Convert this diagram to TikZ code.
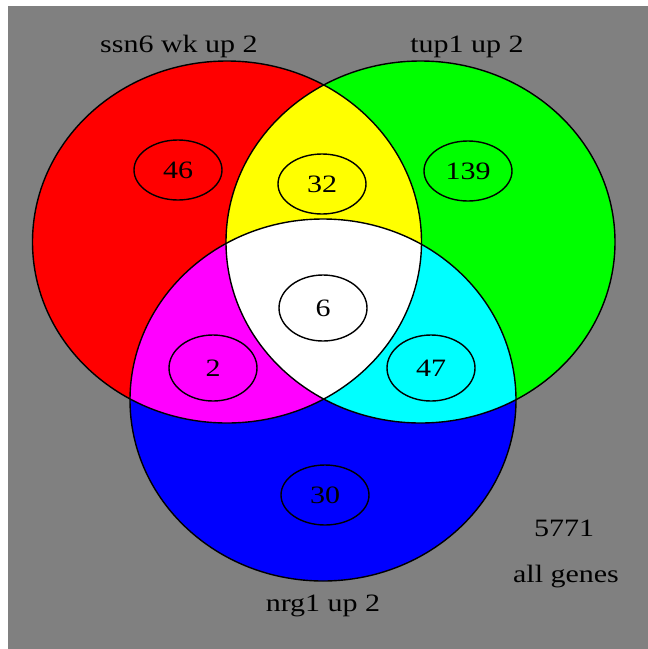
\documentclass[tikz,border=0pt]{standalone}
\usepackage{fontspec}
\setmainfont{Liberation Serif}[FakeStretch=1.2]
\usetikzlibrary{shapes.geometric}
\definecolor{bggray}{RGB}{128,128,128}
\definecolor{vred}{RGB}{255,0,0}
\definecolor{vgreen}{RGB}{0,255,0}
\definecolor{vblue}{RGB}{0,0,255}
\definecolor{vyellow}{RGB}{255,255,0}
\definecolor{vmagenta}{RGB}{255,0,255}
\definecolor{vcyan}{RGB}{0,255,255}
\begin{document}
\begin{tikzpicture}[x=1pt,y=-1pt,
  lab/.style={font=\fontsize{25}{28}\selectfont, inner sep=0pt, anchor=base},
  oval/.style={ellipse, draw=black, line width=1.4pt, minimum width=88pt, minimum height=60pt, inner sep=0pt, font=\fontsize{25}{28}\selectfont},
  rim/.style={draw=black, line width=1.4pt}]
\useasboundingbox (0,0) rectangle (648,649);
\fill[white] (0,0) rectangle (648,649);
\fill[bggray] (8,6) rectangle (648,649);
\def\setR{(227,242) ellipse [x radius=194.5pt, y radius=181pt]}
\def\setG{(420.5,242) ellipse [x radius=194.5pt, y radius=181pt]}
\def\setB{(323,400) ellipse [x radius=193pt, y radius=181pt]}
\fill[vred] \setR;
\fill[vgreen] \setG;
\fill[vblue] \setB;
\begin{scope}\clip \setR; \fill[vyellow] \setG; \end{scope}
\begin{scope}\clip \setR; \fill[vmagenta] \setB; \end{scope}
\begin{scope}\clip \setG; \fill[vcyan] \setB; \end{scope}
\begin{scope}\clip \setR; \clip \setG; \fill[white] \setB; \end{scope}
\path[rim] \setR;
\path[rim] \setG;
\path[rim] \setB;
\node[oval] (o46) at (178,170) {46};
\node[oval] (o32) at (322,184) {32};
\node[oval] (o139) at (468,171) {139};
\node[oval,minimum height=66pt] (o6) at (323,308) {6};
\node[oval,minimum height=66pt] (o2) at (213,368) {2};
\node[oval,minimum height=66pt] (o47) at (431,368) {47};
\node[oval] (o30) at (325,495) {30};
\node[lab] (t1) at (179,52) {ssn6 wk up 2};
\node[lab] (t2) at (467,52) {tup1 up 2};
\node[lab] (t3) at (323,611) {nrg1 up 2};
\node[lab] (t4) at (564,536) {5771};
\node[lab] (t5) at (566,582) {all genes};
\end{tikzpicture}
\end{document}
